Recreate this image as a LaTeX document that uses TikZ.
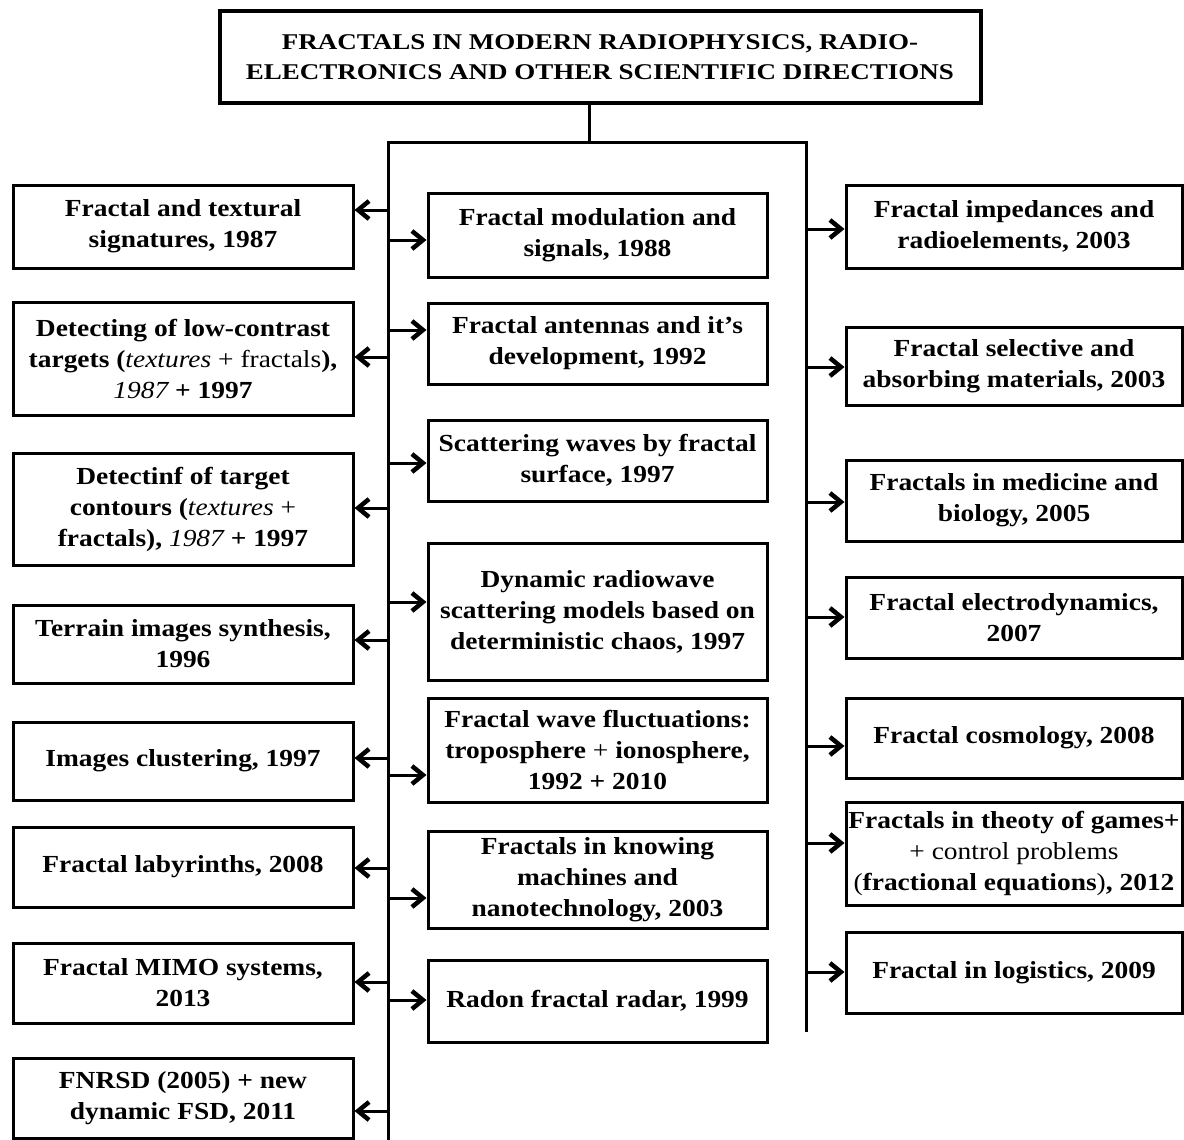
\documentclass[tikz,border=0pt]{standalone}
\usepackage{fontspec}
\setmainfont{Liberation Serif}[FakeStretch=1.12]
\newfontfamily\titlefont{Liberation Serif}[FakeStretch=1.2]
\usetikzlibrary{arrows.meta}
\begin{document}
\begin{tikzpicture}[x=1pt,y=-1pt,
  box/.style={draw, line width=3pt, rectangle, inner sep=0pt, align=center,
    font=\fontsize{24.5}{31}\selectfont\bfseries},
  lbox/.style={box, minimum width=340pt},
  mbox/.style={box, minimum width=339pt},
  rbox/.style={box, minimum width=336pt},
  bus/.style={line width=3pt},
  arr/.style={line width=3pt, -{Straight Barb[length=11pt,width=18pt,line width=4.5pt 0]}}]
\fill[white] (0,0) rectangle (1184,1140);
\useasboundingbox (0,0) rectangle (1184,1140);

% title
\node[draw, line width=4pt, minimum width=761pt, minimum height=92pt, inner sep=0pt, align=center,
  font=\titlefont\bfseries\fontsize{22.5}{30}\selectfont] (T) at (600,57)
  {FRACTALS IN MODERN RADIOPHYSICS, RADIO-\\ELECTRONICS AND OTHER SCIENTIFIC DIRECTIONS};

% left column
\node[lbox, minimum height=83pt] (L1) at (183,226.5) {Fractal and textural\\signatures, 1987};
\node[lbox, minimum height=113pt] (L2) at (183,358.5) {Detecting of low-contrast\\targets ({\mdseries\itshape textures} {\mdseries + fractals}),\\{\mdseries\itshape 1987} + 1997};
\node[lbox, minimum height=112pt] (L3) at (183,509) {Detectinf of target\\contours ({\mdseries\itshape textures} {\mdseries +}\\fractals), {\mdseries\itshape 1987} + 1997};
\node[lbox, minimum height=78pt] (L4) at (183,644) {Terrain images synthesis,\\1996};
\node[lbox, minimum height=78pt] (L5) at (183,761) {Images clustering, 1997};
\node[lbox, minimum height=80pt] (L6) at (183,867) {Fractal labyrinths, 2008};
\node[lbox, minimum height=80pt] (L7) at (183,983) {Fractal MIMO systems,\\2013};
\node[lbox, minimum height=80pt] (L8) at (183,1098) {FNRSD (2005) + new\\dynamic FSD, 2011};

% middle column
\node[mbox, minimum height=84pt] (M1) at (597.5,235) {Fractal modulation and\\signals, 1988};
\node[mbox, minimum height=81pt] (M2) at (597.5,343.5) {Fractal antennas and it's\\development, 1992};
\node[mbox, minimum height=81pt] (M3) at (597.5,460.5) {Scattering waves by fractal\\surface, 1997};
\node[mbox, minimum height=137pt] (M4) at (597.5,611.5) {Dynamic radiowave\\scattering models based on\\deterministic chaos, 1997};
\node[mbox, minimum height=104pt] (M5) at (597.5,750) {Fractal wave fluctuations:\\troposphere {\mdseries +} ionosphere,\\1992 + 2010};
\node[mbox, minimum height=97pt] (M6) at (597.5,879.5) {Fractals in knowing\\machines and\\nanotechnology, 2003};
\node[mbox, minimum height=82pt] (M7) at (597.5,1001) {Radon fractal radar, 1999};

% right column
\node[rbox, minimum height=83pt] (R1) at (1014,226.5) {Fractal impedances and\\radioelements, 2003};
\node[rbox, minimum height=78pt] (R2) at (1014,366) {Fractal selective and\\absorbing materials, 2003};
\node[rbox, minimum height=81pt] (R3) at (1014,500.5) {Fractals in medicine and\\biology, 2005};
\node[rbox, minimum height=81pt] (R4) at (1014,617.5) {Fractal electrodynamics,\\2007};
\node[rbox, minimum height=80pt] (R5) at (1014,738) {Fractal cosmology, 2008};
\node[rbox, minimum height=103pt] (R6) at (1014,853.5) {Fractals in theoty of games+\\{\mdseries + control problems}\\{\mdseries(}fractional equations{\mdseries)}, 2012};
\node[rbox, minimum height=81pt] (R7) at (1014,972.5) {Fractal in logistics, 2009};

% bus lines
\coordinate (stem) at (589,142.5);
\coordinate (busL) at (388,142.5);
\coordinate (busR) at (806,142.5);
\coordinate (busLend) at (388,1140);
\coordinate (busRend) at (806,1030);
\draw[bus] (T.south -| stem) -- (stem);
\draw[bus, line cap=rect] (busLend) -- (busL) -- (busR) -- (busRend);

% arrows
\foreach \n/\yy in {L1/210,L2/357,L3/508,L4/640,L5/758,L6/868,L7/982,L8/1111}{
  \coordinate (a\n) at (388,\yy);
  \draw[arr] (a\n) -- (a\n -| \n.east);
}
\foreach \n/\yy in {M1/240,M2/330,M3/463,M4/602,M5/775,M6/898,M7/1000}{
  \coordinate (a\n) at (388,\yy);
  \draw[arr] (a\n) -- (a\n -| \n.west);
}
\foreach \n/\yy in {R1/229,R2/367,R3/502,R4/617,R5/746,R6/843,R7/972}{
  \coordinate (a\n) at (806,\yy);
  \draw[arr] (a\n) -- (a\n -| \n.west);
}
\end{tikzpicture}
\end{document}
